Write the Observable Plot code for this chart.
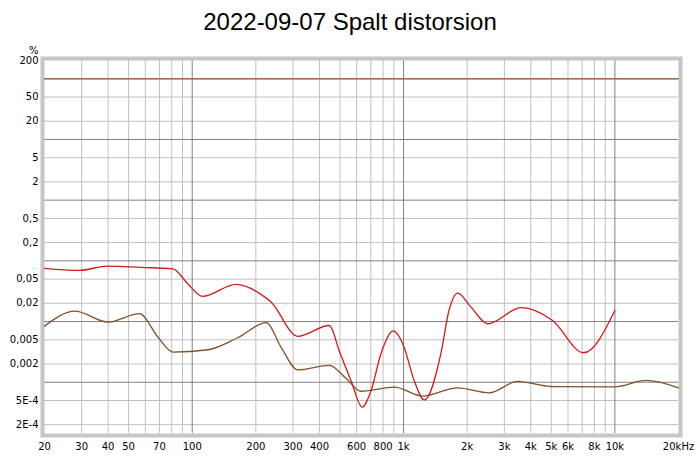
<!DOCTYPE html>
<html>
<head>
<meta charset="utf-8">
<script src="https://cdn.jsdelivr.net/npm/d3@7"></script>
<script src="https://cdn.jsdelivr.net/npm/@observablehq/plot@0.6"></script>
<style>
  html, body { margin: 0; padding: 0; background: #fff; }
  #title { width: 700px; height: 40px; line-height: 44px; text-align: center;
           font-family: "Liberation Sans", Arial, sans-serif; font-size: 24px; color: #000; }
</style>
</head>
<body>
<div id="title">2022-09-07 Spalt distorsion</div>
<div id="chart"></div>
<script>
// ---- tick labels ----
const xTicks = [20,30,40,50,70,100,200,300,400,600,800,1000,2000,3000,4000,5000,6000,8000,10000,20000];
const xTickLabels = ["20","30","40","50","70","100","200","300","400","600","800","1k","2k","3k","4k","5k","6k","8k","10k","20kHz"];
const yTicks = [200,50,20,5,2,0.5,0.2,0.05,0.02,0.005,0.002,0.0005,0.0002];
const yTickLabels = ["200","50","20","5","2","0,5","0,2","0,05","0,02","0,005","0,002","5E-4","2E-4"];

// ---- grid ----
const xMinorGrid = [30,40,50,60,70,80,90,200,300,400,500,600,700,800,900,2000,3000,4000,5000,6000,7000,8000,9000];
const xMajorGrid = [100,1000,10000];
const yMinorGrid = [50,20,5,2,0.5,0.2,0.05,0.02,0.005,0.002,0.0005,0.0002];
const yMajorGrid = [100,10,1,0.1,0.01,0.001];

// ---- series: flat reference line ----
const flatFreq = [20, 20000];
const flatVal = [100, 100];

// ---- series: red curve ----
const redFreq = [20, 29, 40, 57, 81, 95, 112, 161, 224, 236, 316, 446, 496, 565, 637, 702, 783, 895, 1000, 1122, 1254, 1503, 1641, 1803, 2085, 2500, 3600, 5070, 7110, 10000];
const redVal  = [0.075, 0.0695, 0.082, 0.078, 0.074, 0.0425, 0.026, 0.041, 0.0243, 0.021, 0.0057, 0.0086, 0.0033, 0.00105, 0.00039, 0.00073, 0.003, 0.0070, 0.004, 0.00107, 0.00051, 0.0030, 0.0152, 0.0294, 0.0173, 0.0092, 0.0169, 0.0104, 0.00306, 0.0152];

// ---- series: brown curve ----
const brownFreq = [20, 27.8, 40, 56.3, 68.9, 81, 119, 164, 224, 263, 316, 446, 535, 630, 905, 1233, 1803, 2546, 3467, 4980, 10000, 14030, 20000];
const brownVal  = [0.0084, 0.0148, 0.0098, 0.0135, 0.0055, 0.00313, 0.00343, 0.0054, 0.0096, 0.0038, 0.0016, 0.0019, 0.00115, 0.00071, 0.00083, 0.00059, 0.00081, 0.00067, 0.00103, 0.00085, 0.00084, 0.00107, 0.00081];

const toRows = (fs, vs) => fs.map((f, i) => ({f, v: vs[i]}));
const flatRows = toRows(flatFreq, flatVal);
const redRows = toRows(redFreq, redVal);
const brownRows = toRows(brownFreq, brownVal);
const xLabelRows = xTicks.map((t, i) => ({t, label: xTickLabels[i]}));
const yLabelRows = yTicks.map((t, i) => ({t, label: yTickLabels[i]}));

const plot = Plot.plot({
  width: 700,
  height: 418,
  marginLeft: 44,
  marginRight: 22,
  marginTop: 20,
  marginBottom: 25,
  style: {fontFamily: "'DejaVu Sans', sans-serif", fontSize: "10px", color: "#000", background: "#fff", overflow: "visible"},
  x: {type: "log", domain: [20, 20000], axis: null},
  y: {type: "log", domain: [1.43e-4, 200], axis: null},
  marks: [
    Plot.ruleX(xMinorGrid, {stroke: "#c0c0c0", strokeWidth: 1}),
    Plot.ruleY(yMinorGrid, {stroke: "#c0c0c0", strokeWidth: 1}),
    Plot.ruleX(xMajorGrid, {stroke: "#808080", strokeWidth: 1}),
    Plot.ruleY(yMajorGrid, {stroke: "#808080", strokeWidth: 1}),
    Plot.frame({stroke: "#c6c6c6", strokeWidth: 4, inset: -2}),
    Plot.line(flatRows, {x: "f", y: "v", stroke: "#a06e50", strokeWidth: 1.5}),
    Plot.line(brownRows, {x: "f", y: "v", stroke: "#84502a", strokeWidth: 1.3, curve: "monotone-x"}),
    Plot.line(redRows, {x: "f", y: "v", stroke: "#d41a1a", strokeWidth: 1.3, curve: "monotone-x"}),
    Plot.text(xLabelRows, {x: "t", text: "label", frameAnchor: "bottom", lineAnchor: "top", dy: 9, fill: "#000"}),
    Plot.text(yLabelRows, {y: "t", text: "label", frameAnchor: "left", textAnchor: "end", dx: -6, fill: "#000"}),
    Plot.text(["%"], {frameAnchor: "top-left", dx: -6, dy: -14, textAnchor: "end", fill: "#000"})
  ]
});
document.getElementById("chart").append(plot);
</script>
</body>
</html>
